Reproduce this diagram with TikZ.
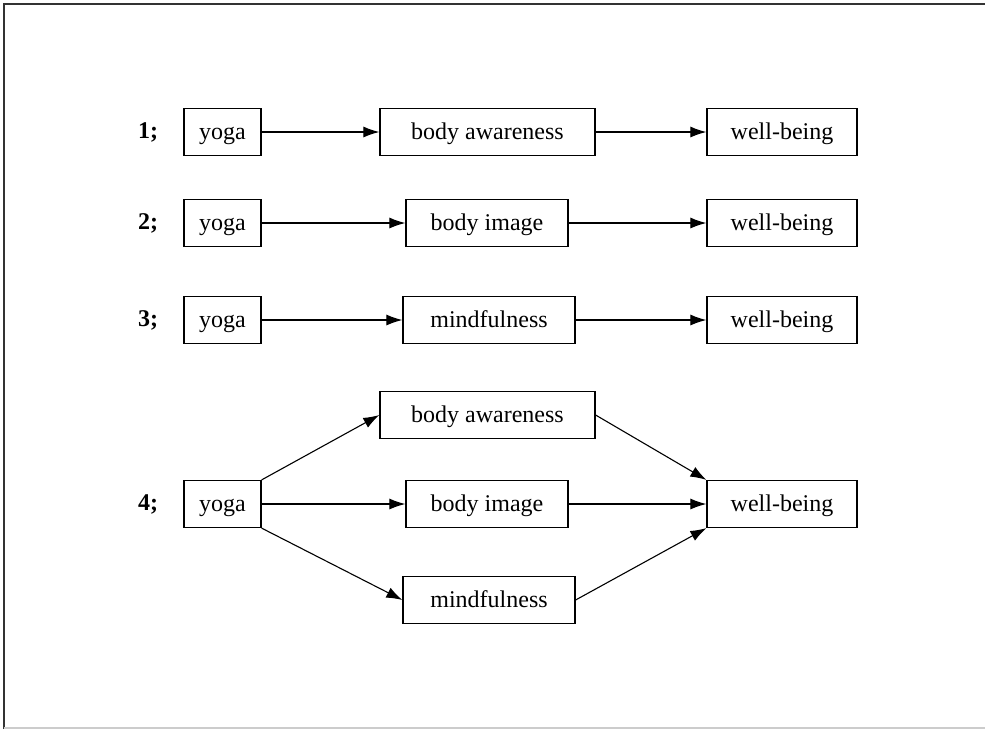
\documentclass[tikz,border=0pt]{standalone}
\usepackage{fontspec}
\setmainfont{Liberation Serif}
\usetikzlibrary{arrows.meta}
\begin{document}
\begin{tikzpicture}[x=0.5pt, y=-0.5pt, font=\fontsize{12}{14}\selectfont,
        box/.style={rectangle, draw, line width=0.6pt, minimum height=23.5pt, inner sep=0pt,
            text height=1.9ex, text depth=0.25ex},
        arr/.style={-{Latex[length=8pt,width=5.5pt]}, line width=0.55pt}]
        \useasboundingbox (0, 0) rectangle (985, 729);
        \draw[black!80, line width=1pt] (4, 729) -- (4, 4) -- (985, 4);
        \draw[black!20, line width=1pt] (4, 728) -- (985, 728);

        % 1
        \node (num1) at (148, 132) [] {\textbf{1;}};
        \node[box, minimum width=38.5pt] (yoga1) at (222.5, 132) {yoga};
        \node[box, minimum width=107.5pt] (aware1) at (487.5, 132) {body awareness};
        \node[box, minimum width=75pt] (well1) at (782, 132) {well-being};
        \draw[arr] (yoga1) -- (aware1);
        \draw[arr] (aware1) -- (well1);

        % 2
        \node (num2) at (148, 223) [] {\textbf{2;}};
        \node[box, minimum width=38.5pt] (yoga2) at (222.5, 223) {yoga};
        \node[box, minimum width=81pt] (image2) at (487, 223) {body image};
        \node[box, minimum width=75pt] (well2) at (782, 223) {well-being};
        \draw[arr] (yoga2) -- (image2);
        \draw[arr] (image2) -- (well2);

        % 3
        \node (num3) at (148, 320) [] {\textbf{3;}};
        \node[box, minimum width=38.5pt] (yoga3) at (222.5, 320) {yoga};
        \node[box, minimum width=86pt] (mind3) at (489, 320) {mindfulness};
        \node[box, minimum width=75pt] (well3) at (782, 320) {well-being};
        \draw[arr] (yoga3) -- (mind3);
        \draw[arr] (mind3) -- (well3);

        % 4
        \node (num4) at (148, 504) [] {\textbf{4;}};
        \node[box, minimum width=38.5pt] (yoga4) at (222.5, 504) {yoga};
        \node[box, minimum width=107.5pt] (aware4) at (487.5, 415) {body awareness};
        \node[box, minimum width=81pt] (image4) at (487, 504) {body image};
        \node[box, minimum width=86pt] (mind4) at (489, 600) {mindfulness};
        \node[box, minimum width=75pt] (well4) at (782, 504) {well-being};
        \draw[arr] (yoga4.north east) -- (aware4.west);
        \draw[arr] (yoga4) -- (image4);
        \draw[arr] (yoga4.south east) -- (mind4.west);
        \draw[arr] (aware4.east) -- (well4.north west);
        \draw[arr] (image4) -- (well4);
        \draw[arr] (mind4.east) -- (well4.south west);
    \end{tikzpicture}
\end{document}
